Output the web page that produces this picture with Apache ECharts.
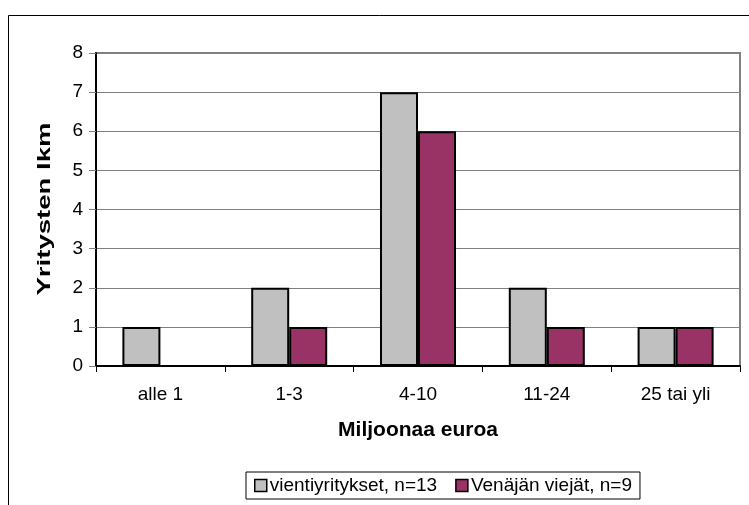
<!DOCTYPE html>
<html>
<head>
<meta charset="utf-8">
<script src="https://cdn.jsdelivr.net/npm/echarts@6/dist/echarts.min.js"></script>
<style>
  html, body { margin: 0; padding: 0; background: #fff; }
  #chart { width: 749px; height: 505px; }
</style>
</head>
<body>
<div id="chart"></div>
<script>
// Yritysten lukumäärä liikevaihtoluokittain
const categories = ['alle 1', '1-3', '4-10', '11-24', '25 tai yli'];
const vientiyritykset = [1, 2, 7, 2, 1];
const venajanViejat = [0, 1, 6, 1, 1];
const seriesNames = ['vientiyritykset, n=13', 'Venäjän viejät, n=9'];
const yTicks = [0, 1, 2, 3, 4, 5, 6, 7, 8];
const xTitle = 'Miljoonaa euroa';
const yTitle = 'Yritysten lkm';

const FONT = '"Liberation Sans", Arial, sans-serif';

const chart = echarts.init(document.getElementById('chart'), null, { renderer: 'canvas' });

chart.setOption({
  animation: false,
  backgroundColor: '#fff',
  textStyle: { fontFamily: FONT },
  graphic: [
    {
      // chart area frame
      type: 'rect',
      shape: { x: 8.5, y: 15.5, width: 800, height: 600 },
      style: { fill: 'none', stroke: '#000', lineWidth: 1 },
      silent: true,
      z: -1
    },
    {
      // vertical axis title, stretched along its length
      type: 'text',
      x: 45,
      y: 209,
      rotation: Math.PI / 2,
      scaleX: 1.45,
      style: {
        text: yTitle,
        fontSize: 19,
        fontWeight: 'bold',
        fontFamily: FONT,
        fill: '#000',
        align: 'center',
        verticalAlign: 'middle'
      },
      silent: true
    }
  ],
  grid: {
    left: 96, right: 9, top: 53, bottom: 139,
    show: true,
    borderColor: '#808080',
    borderWidth: 2,
    backgroundColor: '#fff'
  },
  legend: {
    left: 246,
    top: 472,
    padding: [4, 8, 4, 8],
    itemGap: 18,
    itemWidth: 12,
    itemHeight: 12,
    icon: 'rect',
    borderColor: '#000',
    borderWidth: 1,
    textStyle: { fontSize: 19, color: '#000', fontFamily: FONT, padding: [0, 0, 0, -2] },
    itemStyle: { borderColor: '#000', borderWidth: 1.5 },
    data: seriesNames
  },
  xAxis: {
    type: 'category',
    data: categories,
    name: xTitle,
    nameLocation: 'middle',
    nameGap: 54,
    nameTextStyle: { fontSize: 21, fontWeight: 'bold', color: '#000', fontFamily: FONT },
    axisLine: { show: true, lineStyle: { color: '#000', width: 2 } },
    axisTick: { show: true, length: 6, alignWithLabel: false, lineStyle: { color: '#000', width: 1 } },
    axisLabel: { fontSize: 19, color: '#000', margin: 19, fontFamily: FONT },
    splitLine: { show: false }
  },
  yAxis: {
    type: 'value',
    min: 0,
    max: yTicks[yTicks.length - 1],
    interval: 1,
    axisLine: { show: true, lineStyle: { color: '#000', width: 2 } },
    axisTick: { show: true, inside: false, length: 7, lineStyle: { color: '#808080', width: 1 } },
    axisLabel: { fontSize: 19, color: '#000', margin: 13, fontFamily: FONT },
    splitLine: { show: true, lineStyle: { color: '#808080', width: 1 } }
  },
  series: [
    {
      name: seriesNames[0],
      type: 'bar',
      data: vientiyritykset,
      barWidth: 38,
      barGap: '0%',
      itemStyle: { color: '#C0C0C0', borderColor: '#000', borderWidth: 2 }
    },
    {
      name: seriesNames[1],
      type: 'bar',
      data: venajanViejat,
      barWidth: 38,
      barGap: '0%',
      itemStyle: { color: '#993366', borderColor: '#000', borderWidth: 2 }
    }
  ]
});
</script>
</body>
</html>
